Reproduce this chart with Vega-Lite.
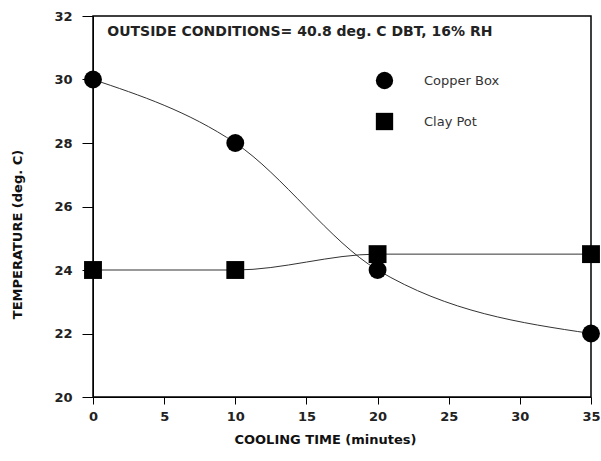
{
  "$schema": "https://vega.github.io/schema/vega-lite/v6.json",
  "width": 498,
  "height": 381,
  "autosize": {"type": "none"},
  "padding": {"left": 93, "top": 16, "right": 10, "bottom": 64},
  "background": "white",
  "config": {
    "view": {"stroke": "black", "strokeWidth": 1.5},
    "font": "Liberation Sans",
    "axis": {
      "grid": false,
      "domainColor": "black",
      "tickColor": "black",
      "labelColor": "#222",
      "labelFont": "DejaVu Sans",
      "labelFontWeight": "bold",
      "labelFontSize": 13,
      "labelFlush": false,
      "titleFont": "DejaVu Sans",
      "titleFontWeight": "bold",
      "titleColor": "#111",
      "titleFontSize": 12
    }
  },
  "datasets": {
    "series": [
      {"time": 0, "temp": 30, "box": "Copper Box"},
      {"time": 10, "temp": 28, "box": "Copper Box"},
      {"time": 20, "temp": 24, "box": "Copper Box"},
      {"time": 35, "temp": 22, "box": "Copper Box"},
      {"time": 0, "temp": 24, "box": "Clay Pot"},
      {"time": 10, "temp": 24, "box": "Clay Pot"},
      {"time": 20, "temp": 24.5, "box": "Clay Pot"},
      {"time": 35, "temp": 24.5, "box": "Clay Pot"}
    ],
    "note": [
      {"time": 1.0, "temp": 31.5, "label": "OUTSIDE CONDITIONS= 40.8 deg. C DBT, 16% RH"}
    ]
  },
  "layer": [
    {
      "data": {"name": "series"},
      "mark": {"type": "line", "interpolate": "monotone", "color": "#333", "strokeWidth": 1},
      "encoding": {
        "x": {"field": "time", "type": "quantitative", "scale": {"domain": [0, 35], "nice": false},
          "axis": {"values": [0, 5, 10, 15, 20, 25, 30, 35], "title": "COOLING TIME (minutes)", "titleFontSize": 13, "titleX": 232, "tickSize": 7, "labelPadding": 6, "titlePadding": 10}},
        "y": {"field": "temp", "type": "quantitative", "scale": {"domain": [20, 32], "nice": false, "zero": false},
          "axis": {"values": [20, 22, 24, 26, 28, 30, 32], "title": "TEMPERATURE (deg. C)", "titleFontSize": 13, "titleY": 218, "tickSize": 11, "labelPadding": 10, "titlePadding": 29}},
        "detail": {"field": "box"}
      }
    },
    {
      "data": {"name": "series"},
      "mark": {"type": "point", "filled": true, "color": "black", "opacity": 1, "size": 320},
      "encoding": {
        "x": {"field": "time", "type": "quantitative"},
        "y": {"field": "temp", "type": "quantitative"},
        "shape": {"field": "box", "type": "nominal",
          "scale": {"domain": ["Copper Box", "Clay Pot"], "range": ["circle", "square"]},
          "legend": {"title": null, "orient": "none", "legendX": 282, "legendY": 55,
            "symbolSize": 300, "symbolFillColor": "black", "symbolStrokeColor": "black",
            "labelFont": "DejaVu Sans", "labelFontSize": 13, "labelColor": "#333",
            "labelOffset": 30, "rowPadding": 16}
        }
      }
    },
    {
      "data": {"name": "note"},
      "mark": {"type": "text", "align": "left", "baseline": "middle", "font": "DejaVu Sans", "fontWeight": "bold", "fontSize": 14, "color": "#222"},
      "encoding": {
        "x": {"field": "time", "type": "quantitative"},
        "y": {"field": "temp", "type": "quantitative"},
        "text": {"field": "label"}
      }
    }
  ]
}
